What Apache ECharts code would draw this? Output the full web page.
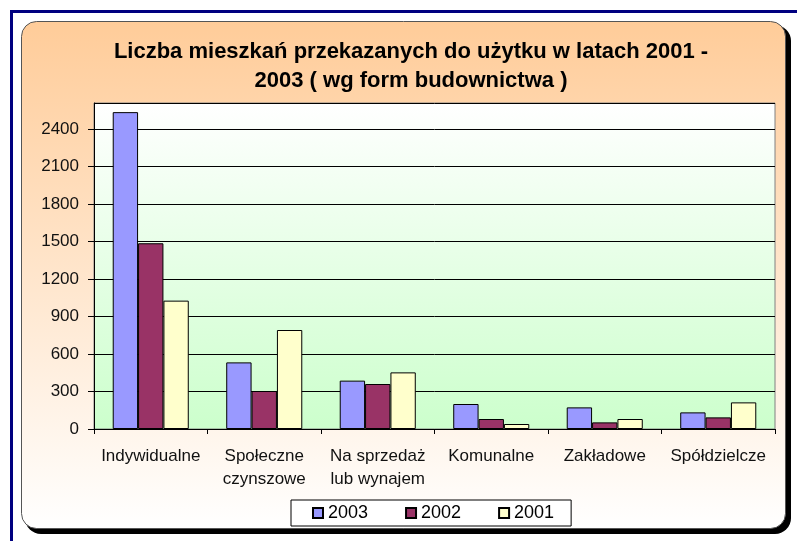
<!DOCTYPE html>
<html>
<head>
<meta charset="utf-8">
<script src="https://cdn.jsdelivr.net/npm/echarts@6/dist/echarts.min.js"></script>
<style>
  html, body { margin: 0; padding: 0; background: #fff; }
  #wykres { width: 797px; height: 541px; }
</style>
</head>
<body>
<div id="wykres"></div>
<script>
// formy budownictwa
var kategorie = ["Indywidualne", "Społeczne\nczynszowe", "Na sprzedaż\nlub wynajem", "Komunalne", "Zakładowe", "Spółdzielcze"];
var lata = ["2003", "2002", "2001"];
var dane2003 = [2535, 533, 387, 200, 173, 133];
var dane2002 = [1486, 304, 360, 80, 53, 93];
var dane2001 = [1027, 792, 453, 40, 80, 213];
var kolory = ["#9999FF", "#993366", "#FFFFCC"];

var czcionka = "Liberation Sans, Arial, sans-serif";
var myChart = echarts.init(document.getElementById("wykres"));

function seria(nazwa, dane, kolor) {
  return {
    name: nazwa,
    type: "bar",
    data: dane,
    barGap: "0%",
    barCategoryGap: "33%",
    itemStyle: {
      color: kolor,
      borderColor: "#000",
      borderWidth: 1
    }
  };
}

var option = {
  backgroundColor: "#fff",
  animation: false,
  graphic: [
    {
      // niebieska ramka
      type: "rect",
      z: -10,
      shape: { x: 11.5, y: 11.5, width: 800, height: 560 },
      style: { fill: "#fff", stroke: "#000080", lineWidth: 3 }
    },
    {
      // cien
      type: "rect",
      z: -9,
      shape: { x: 25, y: 25, width: 766, height: 509, r: 16 },
      style: { fill: "#000" }
    },
    {
      type: "rect",
      z: -8,
      shape: { x: 21.5, y: 21.5, width: 764, height: 507, r: 15 },
      style: {
        fill: new echarts.graphic.LinearGradient(0, 0, 0, 1, [
          { offset: 0, color: "#FFCC99" },
          { offset: 1, color: "#FFFFFF" }
        ]),
        stroke: "#555",
        lineWidth: 1
      }
    }
  ],
  title: {
    text: "Liczba mieszkań przekazanych do użytku w latach 2001 -\n2003 ( wg form budownictwa )",
    left: 406,
    top: 32,
    textAlign: "center",
    textStyle: {
      fontFamily: czcionka,
      fontWeight: "bold",
      fontSize: 22,
      lineHeight: 29,
      color: "#000"
    }
  },
  legend: {
    data: lata,
    left: 291,
    top: 500,
    itemWidth: 10,
    itemHeight: 10,
    itemGap: 37,
    padding: [4, 17, 4, 21],
    borderColor: "#000",
    borderWidth: 1,
    backgroundColor: "#fff",
    icon: "rect",
    textStyle: { fontFamily: czcionka, fontSize: 18, color: "#000" }
  },
  grid: {
    left: 94,
    right: 22,
    top: 103,
    bottom: 112,
    show: true,
    borderColor: "#808080",
    borderWidth: 1,
    backgroundColor: new echarts.graphic.LinearGradient(0, 0, 0, 1, [
      { offset: 0, color: "#FFFFFF" },
      { offset: 1, color: "#CCFFCC" }
    ])
  },
  xAxis: {
    type: "category",
    data: kategorie,
    axisLine: { lineStyle: { color: "#000", width: 1 } },
    axisTick: { show: true, length: 5, lineStyle: { color: "#000" } },
    axisLabel: {
      interval: 0,
      hideOverlap: false,
      fontFamily: czcionka,
      fontSize: 17,
      color: "#111",
      margin: 16,
      lineHeight: 23
    }
  },
  yAxis: {
    type: "value",
    min: 0,
    max: 2608,
    interval: 300,
    axisLine: { show: true, lineStyle: { color: "#000", width: 1 } },
    axisTick: { show: true, length: 6, lineStyle: { color: "#000" } },
    splitLine: { lineStyle: { color: "#000", width: 1 } },
    axisLabel: {
      fontFamily: czcionka,
      fontSize: 17,
      color: "#111",
      margin: 15,
      showMaxLabel: false,
      formatter: function (v) { return v % 300 === 0 ? String(v) : ""; }
    }
  },
  series: [
    seria(lata[0], dane2003, kolory[0]),
    seria(lata[1], dane2002, kolory[1]),
    seria(lata[2], dane2001, kolory[2])
  ]
};

myChart.setOption(option);
</script>
</body>
</html>
